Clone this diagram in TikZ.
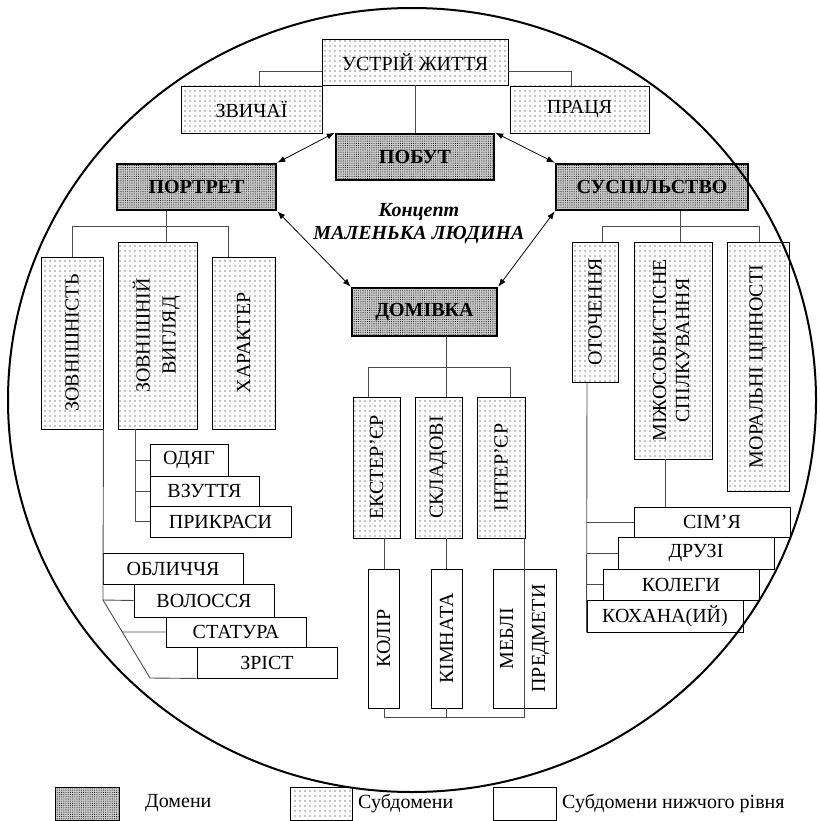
\documentclass[tikz,border=0pt]{standalone}
\usepackage{fontspec}
\setmainfont{Liberation Serif}
\usetikzlibrary{arrows.meta,patterns.meta,calc}
\newcommand\myfs{\fontsize{20}{23}\selectfont}
\begin{document}
\begin{tikzpicture}[x=1pt,y=-1pt,
  dom/.style={draw, line width=2.6pt, fill=gray!40,
    postaction={pattern={Dots[distance=2.2pt,radius=0.55pt]}, pattern color=gray!20!black},
    inner sep=0pt, font=\bfseries\myfs},
  sub/.style={draw, line width=0.9pt, pattern={Dots[distance=5pt,radius=0.65pt]},
    pattern color=black, inner sep=0pt, font=\myfs},
  low/.style={draw, line width=0.9pt, fill=white, inner sep=0pt, font=\myfs},
  conn/.style={draw=black!70, line width=0.9pt},
  arr/.style={line width=0.8pt, {Latex[length=8pt,width=6pt]}-{Latex[length=8pt,width=6pt]}},
  lbl/.style={anchor=west, inner sep=0pt, font=\myfs}]
\useasboundingbox (0,0) rectangle (819,821);

% top
\node[sub, minimum width=186pt, minimum height=46pt] (ustriy) at (415,62) {УСТРІЙ ЖИТТЯ};
\node[sub, minimum width=141pt, minimum height=47pt] (zvych) at (251.5,109.5) {ЗВИЧАЇ};
\node[sub, minimum width=139pt, minimum height=47pt] (pratsya) at (579.5,109.5) {ПРАЦЯ};

% domains
\node[dom, minimum width=158pt, minimum height=46pt] (pobut) at (415,157) {ПОБУТ};
\node[dom, minimum width=159pt, minimum height=46pt] (portret) at (196.5,187) {ПОРТРЕТ};
\node[dom, minimum width=192pt, minimum height=46pt] (susp) at (652,187) {СУСПІЛЬСТВО};
\node[dom, minimum width=145pt, minimum height=48pt] (domivka) at (424.5,312) {ДОМІВКА};

\node[font=\bfseries\itshape\myfs, align=center, inner sep=0pt] (concept) at (419,224) {Концепт\\МАЛЕНЬКА ЛЮДИНА};

% portret subtree
\node[sub, minimum width=62pt, minimum height=172pt] (zovn) at (72,343) {\rotatebox{90}{ЗОВНІШНІСТЬ}};
\node[sub, minimum width=79pt, minimum height=187pt] (vygl) at (157.5,335.5) {\rotatebox{90}{\begin{tabular}{@{}c@{}}ЗОВНІШНІЙ\\[3pt]ВИГЛЯД\end{tabular}}};
\node[sub, minimum width=63pt, minimum height=172pt] (khar) at (243.5,343) {\rotatebox{90}{ХАРАКТЕР}};

\node[low, minimum width=78pt, minimum height=32pt] (odyag) at (189,460) {ОДЯГ};
\node[low, minimum width=109pt, minimum height=30pt] (vzut) at (204.5,491) {ВЗУТТЯ};
\node[low, minimum width=141pt, minimum height=31pt] (prykr) at (220.5,521.5) {ПРИКРАСИ};

\node[low, minimum width=140pt, minimum height=31pt] (oblych) at (173,568.5) {ОБЛИЧЧЯ};
\node[low, minimum width=140pt, minimum height=33pt] (voloss) at (204,600.5) {ВОЛОССЯ};
\node[low, minimum width=140pt, minimum height=30pt] (statur) at (236,632) {СТАТУРА};
\node[low, minimum width=140pt, minimum height=31pt] (zrist) at (267,662.5) {ЗРІСТ};

% domivka subtree
\node[sub, minimum width=47pt, minimum height=141pt] (ekst) at (376.5,467.5) {\rotatebox{90}{ЕКСТЕР’ЄР}};
\node[sub, minimum width=47pt, minimum height=141pt] (sklad) at (438.5,467.5) {\rotatebox{90}{СКЛАДОВІ}};
\node[sub, minimum width=48pt, minimum height=141pt] (inter) at (501,467.5) {\rotatebox{90}{ІНТЕР’ЄР}};

\node[low, minimum width=31pt, minimum height=139pt] (kolir) at (383.5,638.5) {\rotatebox{90}{КОЛІР}};
\node[low, minimum width=31pt, minimum height=139pt] (kimn) at (446.5,638.5) {\rotatebox{90}{КІМНАТА}};
\node[low, minimum width=63pt, minimum height=139pt] (mebli) at (524.5,638.5) {\rotatebox{90}{\begin{tabular}{@{}c@{}}МЕБЛІ\\[9pt]ПРЕДМЕТИ\end{tabular}}};

% susp subtree
\node[sub, minimum width=46pt, minimum height=140pt] (otoch) at (595,312) {\rotatebox{90}{ОТОЧЕННЯ}};
\node[sub, minimum width=78pt, minimum height=217pt] (mizh) at (673,350.5) {\rotatebox{90}{\begin{tabular}{@{}c@{}}МІЖОСОБИСТІСНЕ\\СПІЛКУВАННЯ\end{tabular}}};
\node[sub, minimum width=62pt, minimum height=249pt] (moral) at (758,366.5) {\rotatebox{90}{МОРАЛЬНІ ЦІННОСТІ}};

\node[low, minimum width=156pt, minimum height=30pt] (simya) at (712,522) {СІМ’Я};
\node[low, minimum width=156pt, minimum height=32pt] (druzi) at (696,553) {ДРУЗІ};
\node[low, minimum width=156pt, minimum height=31pt] (koleg) at (681,584.5) {КОЛЕГИ};
\node[low, minimum width=156pt, minimum height=32pt] (kokh) at (665,616) {КОХАНА(ИЙ)};

% connectors: top
\coordinate (c1) at (259,71);
\coordinate (c2) at (571,71);
\draw[conn] (ustriy.west |- c1) -| (zvych.north -| c1);
\draw[conn] (ustriy.east |- c2) -| (pratsya.north -| c2);
\draw[conn] (ustriy.south) -- (pobut.north);

% arrows
\draw[arr] (pobut.north west) -- (portret.north east);
\draw[arr] (pobut.north east) -- (susp.north west);
\draw[arr] (portret.south east) -- (domivka.north west);
\draw[arr] (susp.south west) -- (domivka.north east);

% portret connectors
\coordinate (pb) at (166,226);
\coordinate (pbr) at (228,226);
\draw[conn] (portret.south -| pb) -- (vygl.north -| pb);
\draw[conn] (zovn.north) |- (pbr) -- (khar.north -| pbr);
\coordinate (vb) at (135,0);
\draw[conn] (vygl.south -| vb) |- (prykr.west);
\draw[conn] (odyag.west) -- (odyag.west -| vb);
\draw[conn] (vzut.west) -- (vzut.west -| vb);
\coordinate (zb) at (103,600);
\coordinate (dz) at (150,678);
\draw[conn] (zovn.south east) -- (zb) -- (voloss.west);
\draw[conn] (zb) -- (dz) -- (zrist.south west);
\draw[conn] ($(zb)!0.41!(dz)$) -- (statur.west);

% domivka connectors
\coordinate (db) at (446,367);
\coordinate (dl) at (368,367);
\coordinate (dr) at (510,367);
\draw[conn] (domivka.south -| db) -- (sklad.north -| db);
\draw[conn] (ekst.north -| dl) -- (dl) -- (dr) -- (inter.north -| dr);
\coordinate (kb) at (384,717);
\coordinate (kr) at (524,717);
\draw[conn] (ekst.south -| kb) -- (kolir.north -| kb);
\draw[conn] (sklad.south -| kimn.north) -- (kimn.north);
\draw[conn] (inter.south -| kr) -- (kr) -- (kb) -- (kolir.south -| kb);
\draw[conn] (kimn.south) -- (kimn.south |- kb);

% susp connectors
\coordinate (sb) at (680,226);
\coordinate (sl) at (602,226);
\coordinate (sr) at (759,226);
\draw[conn] (susp.south -| sb) -- (mizh.north -| sb);
\draw[conn] (otoch.north -| sl) -- (sl) -- (sr) -- (moral.north -| sr);
\coordinate (mb) at (665,0);
\draw[conn] (mizh.south -| mb) -- (simya.north -| mb);
\coordinate (ob) at (587,0);
\draw[conn] (otoch.south -| ob) -- (kokh.south west);
\draw[conn] (simya.west) -- (simya.west -| ob);
\draw[conn] (druzi.west) -- (druzi.west -| ob);
\draw[conn] (koleg.west) -- (koleg.west -| ob);

% outer ellipse
\draw[line width=2pt] (412,400) ellipse [x radius=404, y radius=392];

% legend
\node[dom, line width=0.9pt, minimum width=64pt, minimum height=33pt] (ld) at (87,803.5) {};
\node[lbl] (ldt) at (145,803) {Домени};
\node[sub, minimum width=62pt, minimum height=33pt] (ls) at (321,803.5) {};
\node[lbl] (lst) at (358,803) {Субдомени};
\node[low, minimum width=63pt, minimum height=33pt] (lw) at (524.5,803.5) {};
\node[lbl] (lwt) at (562,803) {Субдомени нижчого рівня};
\end{tikzpicture}
\end{document}
